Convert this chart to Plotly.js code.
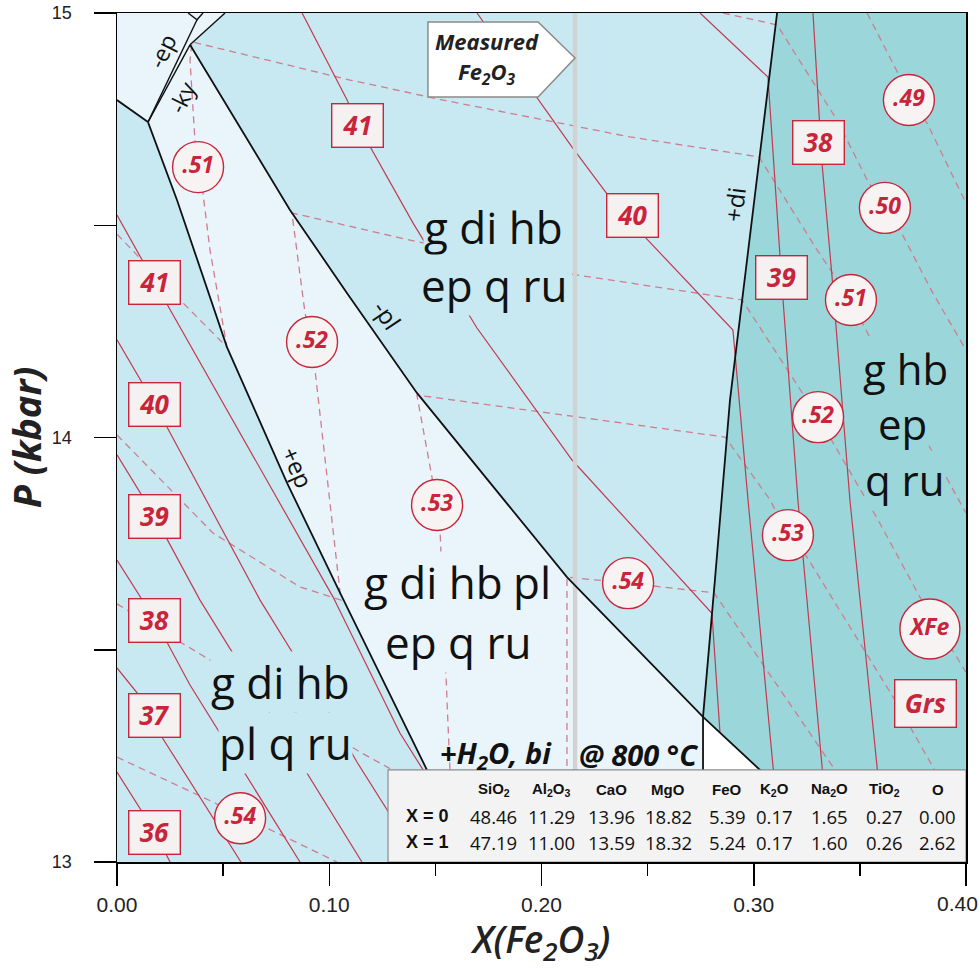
<!DOCTYPE html>
<html>
<head>
<meta charset="utf-8">
<script src="https://cdn.plot.ly/plotly-3.0.1.min.js"></script>
<style>
html,body{margin:0;padding:0;background:#fff;}
#chart{width:980px;height:969px;}
</style>
</head>
<body>
<div id="chart"></div>
<script>
// ---------- phase-field boundaries: X(Fe2O3) vs P (kbar) ----------
const bndCornerX = [0, 0.0146], bndCornerP = [14.795, 14.743];
const bndEpX = [0.0146, 0.0283, 0.0518, 0.0801, 0.1051, 0.1461, 0.1673];
const bndEpP = [14.743, 14.559, 14.213, 13.893, 13.634, 13.217, 13.0];
const bndPlX = [0.0344, 0.0815, 0.1084, 0.1413, 0.2120, 0.2761, 0.3029, 0.3496];
const bndPlP = [14.925, 14.536, 14.340, 14.105, 13.671, 13.342, 13.217, 13.0];
const bndDiX = [0.3110, 0.2888, 0.2817, 0.2761, 0.2761];
const bndDiP = [15.0, 14.088, 13.664, 13.342, 13.0];
const bndEpOutX = [0.0377, 0.0146], bndEpOutP = [14.984, 14.743];
const bndKyX = [0.0344, 0.0146], bndKyP = [14.925, 14.743];
const bndTopX = [0.0335, 0.0377, 0.0405], bndTopP = [15.0, 14.984, 15.0];
const bndTop2X = [0.0344, 0.0509], bndTop2P = [14.925, 15.0];

// ---------- grossular isopleths (solid) ----------
const grs41LeftX = [0, 0.0179, 0.1018, 0.1333, 0.1442], grs41LeftP = [14.524, 14.364, 13.624, 13.304, 13.217];
const grs40LeftX = [0, 0.0179, 0.0674, 0.0966, 0.1131, 0.1428], grs40LeftP = [14.230, 14.077, 13.617, 13.381, 13.235, 13.0];
const grs39LeftX = [0, 0.0179, 0.0391, 0.0683, 0.0909, 0.1154], grs39LeftP = [13.959, 13.813, 13.617, 13.381, 13.200, 13.0];
const grs38LeftX = [0, 0.0179, 0.0344, 0.0612, 0.0862], grs38LeftP = [13.711, 13.570, 13.417, 13.200, 13.0];
const grs37LeftX = [0, 0.0179, 0.0212, 0.0584], grs37LeftP = [13.457, 13.346, 13.294, 13.0];
const grs36LeftX = [0, 0.0179, 0.0250], grs36LeftP = [13.212, 13.070, 13.0];
const grs41X = [0.0872, 0.1084, 0.1135, 0.1395, 0.1696, 0.2144, 0.2803, 0.2841];
const grs41P = [15.0, 14.795, 14.736, 14.505, 14.258, 13.947, 13.586, 13.304];
const grs40X = [0.1696, 0.1979, 0.2144, 0.2313, 0.2488, 0.2902, 0.2973, 0.3091, 0.3157];
const grs40P = [15.0, 14.802, 14.684, 14.571, 14.472, 14.253, 13.853, 13.224, 13.0];
const grs39X = [0.2747, 0.3067, 0.3124, 0.3138, 0.3208, 0.3322, 0.3350];
const grs39P = [15.0, 14.849, 14.425, 14.324, 13.853, 13.224, 13.0];
const grs38X = [0.3279, 0.3322, 0.3369, 0.3453, 0.3581, 0.3618];
const grs38P = [15.0, 14.644, 14.378, 13.853, 13.224, 13.0];

// ---------- XFe isopleths (dashed) ----------
const xfe49X = [0.3534, 0.3689, 0.3731, 0.3816, 0.4000];
const xfe49P = [15.0, 14.849, 14.795, 14.741, 14.552];
const xfe50X = [0.2855, 0.3110, 0.3392, 0.3534, 0.3618, 0.3689, 0.3844, 0.4000];
const xfe50P = [15.0, 14.972, 14.748, 14.607, 14.541, 14.489, 14.340, 14.206];
const xfe51X = [0, 0.0297, 0.0518, 0.0438, 0.0405, 0.0382, 0.0367, 0.0344, 0.0353, 0.1098, 0.1536, 0.2144, 0.2417, 0.3025, 0.3298, 0.3458, 0.3548, 0.3948, 0.4000];
const xfe51P = [14.479, 14.324, 14.213, 14.442, 14.576, 14.637, 14.701, 14.889, 14.932, 14.842, 14.795, 14.736, 14.708, 14.661, 14.442, 14.324, 14.234, 13.869, 13.822];
const xfe52X = [0, 0.0452, 0.0862, 0.1055, 0.0933, 0.0919, 0.0886, 0.0824, 0.1380, 0.2073, 0.2945, 0.3303, 0.3581, 0.3783, 0.4000];
const xfe52P = [14.006, 13.775, 13.648, 13.617, 14.159, 14.225, 14.293, 14.529, 14.465, 14.390, 14.324, 14.048, 13.810, 13.624, 13.447];
const xfe53X = [0, 0.0297, 0.0438, 0.1145, 0.1272, 0.1560, 0.1569, 0.1560, 0.1522, 0.1508, 0.1484, 0.1413, 0.2865, 0.3077, 0.3161, 0.3251, 0.3656, 0.3844, 0.4000];
const xfe53P = [13.608, 13.518, 13.476, 13.259, 13.224, 13.139, 13.217, 13.318, 13.782, 13.841, 13.905, 14.100, 14.001, 13.853, 13.770, 13.718, 13.389, 13.224, 13.068];
const xfe54LeftX = [0, 0.0462, 0.0580, 0.0697, 0.1037], xfe54LeftP = [13.247, 13.139, 13.103, 13.082, 13.0];
const xfe54X = [0.2120, 0.2120, 0.2408, 0.2813, 0.3373, 0.3680], xfe54P = [13.0, 13.671, 13.657, 13.634, 13.224, 13.0];

// measured bulk Fe2O3
const measuredFe2O3 = 0.2158;

// ---------- isopleth labels ----------
const xfeLabels = ['.51', '.52', '.53', '.54', '.54', '.49', '.50', '.51', '.52', '.53'];
const xfeLabelX = [0.0382, 0.0919, 0.1508, 0.2408, 0.0580, 0.3731, 0.3618, 0.3458, 0.3303, 0.3161];
const xfeLabelP = [14.637, 14.225, 13.841, 13.657, 13.103, 14.795, 14.541, 14.324, 14.048, 13.770];
const grsLabels = ['41', '40', '39', '38', '37', '36', '41', '40', '39', '38'];
const grsLabelX = [0.0179, 0.0179, 0.0179, 0.0179, 0.0179, 0.0179, 0.1135, 0.2431, 0.3133, 0.3303];
const grsLabelP = [14.364, 14.077, 13.813, 13.570, 13.346, 13.070, 14.736, 14.522, 14.376, 14.696];

// ---------- axis ticks ----------
const xTickVals = [0, 0.1, 0.2, 0.3, 0.4];
const xTickText = ['0.00', '0.10', '0.20', '0.30', '0.40'];

// ---------- bulk composition (wt%) ----------
const oxides = ['SiO<sub>2</sub>', 'Al<sub>2</sub>O<sub>3</sub>', 'CaO', 'MgO', 'FeO', 'K<sub>2</sub>O', 'Na<sub>2</sub>O', 'TiO<sub>2</sub>', 'O'];
const bulkX0 = [48.46, 11.29, 13.96, 18.82, 5.39, 0.17, 1.65, 0.27, 0.00];
const bulkX1 = [47.19, 11.00, 13.59, 18.32, 5.24, 0.17, 1.60, 0.26, 2.62];

// ---------- styling ----------
const RED = '#c8243a';
const RED_LINE = '#c23a50';
const RED_DASH = '#cf7d8e';
const C_MID = '#c8e9f2', C_LIGHT = '#e9f5fb', C_TEAL = '#9bd7da';
const SANS = '"Open Sans", "Noto Sans", sans-serif';
const ARIAL = '"Liberation Sans", Arial, sans-serif';
const TICK_FONT_X = {family: ARIAL, size: 21, color: '#222'};

function curve(x, y, color, width, dash) {
  return {type: 'scatter', mode: 'lines', x: x, y: y,
    line: {color: color, width: width, dash: dash || 'solid', shape: 'linear'},
    hoverinfo: 'skip', showlegend: false};
}
function field(x, y, color) {
  return {type: 'scatter', mode: 'lines', x: x, y: y, fill: 'toself', fillcolor: color,
    line: {width: 0, color: color}, hoverinfo: 'skip', showlegend: false};
}

// field polygons assembled from the boundaries
const J = 5; // index where -pl meets +di
const lightX = [0, bndTop2X[1]].concat(bndPlX.slice(0, J + 1), [bndDiX[4]], bndEpX.slice().reverse(), [bndCornerX[0]]);
const lightP = [15, 15].concat(bndPlP.slice(0, J + 1), [13], bndEpP.slice().reverse(), [bndCornerP[0]]);
const tealX = bndDiX.concat([0.4, 0.4]);
const tealP = bndDiP.concat([13, 15]);
const whiteX = bndPlX.slice(J).concat([bndDiX[4]]);
const whiteP = bndPlP.slice(J).concat([13]);

const DASH = '7px,5px';
const traces = [
  field(lightX, lightP, C_LIGHT),
  field(tealX, tealP, C_TEAL),
  field(whiteX, whiteP, '#ffffff'),
  curve(xfe49X, xfe49P, RED_DASH, 1.3, DASH),
  curve(xfe50X, xfe50P, RED_DASH, 1.3, DASH),
  curve(xfe51X, xfe51P, RED_DASH, 1.3, DASH),
  curve(xfe52X, xfe52P, RED_DASH, 1.3, DASH),
  curve(xfe53X, xfe53P, RED_DASH, 1.3, DASH),
  curve(xfe54LeftX, xfe54LeftP, RED_DASH, 1.3, DASH),
  curve(xfe54X, xfe54P, RED_DASH, 1.3, DASH),
  curve(grs41LeftX, grs41LeftP, RED_LINE, 1.2),
  curve(grs40LeftX, grs40LeftP, RED_LINE, 1.2),
  curve(grs39LeftX, grs39LeftP, RED_LINE, 1.2),
  curve(grs38LeftX, grs38LeftP, RED_LINE, 1.2),
  curve(grs37LeftX, grs37LeftP, RED_LINE, 1.2),
  curve(grs36LeftX, grs36LeftP, RED_LINE, 1.2),
  curve(grs41X, grs41P, RED_LINE, 1.2),
  curve(grs40X, grs40P, RED_LINE, 1.2),
  curve(grs39X, grs39P, RED_LINE, 1.2),
  curve(grs38X, grs38P, RED_LINE, 1.2),
  curve([measuredFe2O3, measuredFe2O3], [13, 15], '#d2d2d2', 4.5),
  curve(bndCornerX, bndCornerP, '#111', 1.8),
  curve(bndEpX, bndEpP, '#111', 1.8),
  curve(bndPlX, bndPlP, '#111', 1.8),
  curve(bndDiX, bndDiP, '#111', 1.8),
  curve(bndEpOutX, bndEpOutP, '#111', 1.4),
  curve(bndKyX, bndKyP, '#111', 1.4),
  curve(bndTopX, bndTopP, '#111', 1.4),
  curve(bndTop2X, bndTop2P, '#111', 1.4),
  {type: 'scatter', mode: 'markers+text', x: xfeLabelX, y: xfeLabelP, text: xfeLabels,
    textposition: 'middle center',
    textfont: {family: SANS, size: 23, color: RED, weight: 700, style: 'italic'},
    marker: {symbol: 'circle', size: 51, color: '#f7f3f3', line: {color: RED, width: 1.4}},
    hoverinfo: 'skip', showlegend: false},
  {type: 'scatter', mode: 'markers+text', x: [0.3830], y: [13.549], text: ['XFe'],
    textposition: 'middle center',
    textfont: {family: SANS, size: 23, color: RED, weight: 700, style: 'italic'},
    marker: {symbol: 'circle', size: 60, color: '#f7f3f3', line: {color: RED, width: 1.4}},
    hoverinfo: 'skip', showlegend: false}
];

const ann = [];
// boxed grossular labels
grsLabels.forEach(function (t, i) {
  ann.push({x: grsLabelX[i], y: grsLabelP[i], xref: 'x', yref: 'y', text: t, showarrow: false,
    font: {family: SANS, size: 26, color: RED, weight: 700, style: 'italic'},
    bgcolor: '#f5f1f1', bordercolor: RED, borderwidth: 1.4, borderpad: 3, width: 44, height: 36});
});
ann.push({x: 0.3811, y: 13.374, xref: 'x', yref: 'y', text: 'Grs', showarrow: false,
  font: {family: SANS, size: 26, color: RED, weight: 700, style: 'italic'},
  bgcolor: '#f5f1f1', bordercolor: RED, borderwidth: 1.4, borderpad: 3, width: 54, height: 40});

// assemblage labels; the background knocks the isopleths out behind the words
function fieldText(t, x, y, bg, size, anchor) {
  ann.push({x: x, y: y, xref: 'x', yref: 'y', text: t, showarrow: false, xanchor: anchor || 'center',
    font: {family: SANS, size: size, color: '#111'}, bgcolor: bg, borderpad: 0});
}
fieldText('g di hb', 0.1776, 14.497, C_MID, 44);
fieldText('ep q ru', 0.1776, 14.360, C_MID, 44);
// "pl" sits against the -pl boundary, so only the first words get a knock-out
fieldText('g di hb', 0.1159, 13.660, C_LIGHT, 44, 'left');
fieldText('pl', 0.1860, 13.660, 'rgba(0,0,0,0)', 44, 'left');
fieldText('ep q ru', 0.1607, 13.518, C_LIGHT, 44);
fieldText('g di hb', 0.0768, 13.424, C_MID, 44);
fieldText('pl q ru', 0.0792, 13.280, C_MID, 44);
fieldText('g hb', 0.3713, 14.163, C_TEAL, 42);
fieldText('ep', 0.3699, 14.033, C_TEAL, 42);
fieldText('q ru', 0.3713, 13.902, C_TEAL, 42);

// reaction-line labels
function lineText(t, x, y, ang, size) {
  ann.push({x: x, y: y, xref: 'x', yref: 'y', text: t, showarrow: false, textangle: ang,
    font: {family: SANS, size: size, color: '#111'}});
}
lineText('-ep', 0.0212, 14.910, -64, 23);
lineText('-ky', 0.0306, 14.802, -64, 23);
lineText('-pl', 0.1272, 14.289, 56, 24);
lineText('+ep', 0.0853, 13.930, 66, 24);
lineText('+di', 0.2911, 14.548, -83, 24);

// conditions
ann.push({x: 0.1785, y: 13.254, xref: 'x', yref: 'y', text: '+H<sub>2</sub>O, bi', showarrow: false,
  font: {family: SANS, size: 29, color: '#111', weight: 700, style: 'italic'}});
ann.push({x: 0.2455, y: 13.254, xref: 'x', yref: 'y', text: '@ 800 °C', showarrow: false,
  font: {family: SANS, size: 29, color: '#111', weight: 700, style: 'italic'}});

// measured Fe2O3 callout
ann.push({x: 0.1743, y: 14.934, xref: 'x', yref: 'y', text: 'Measured', showarrow: false,
  font: {family: SANS, size: 22, color: '#222', weight: 700, style: 'italic'}});
ann.push({x: 0.1743, y: 14.858, xref: 'x', yref: 'y', text: 'Fe<sub>2</sub>O<sub>3</sub>', showarrow: false,
  font: {family: SANS, size: 22, color: '#222', weight: 700, style: 'italic'}});

// bulk composition table
const colX = [0.1776, 0.2045, 0.2332, 0.2596, 0.2874, 0.3100, 0.3359, 0.3614, 0.3868];
const rowP = [13.170, 13.108, 13.047];
oxides.forEach(function (o, i) {
  ann.push({x: colX[i], y: rowP[0], xref: 'x', yref: 'y', text: o, showarrow: false,
    font: {family: ARIAL, size: 15, color: '#111', weight: 700}});
  ann.push({x: colX[i], y: rowP[1], xref: 'x', yref: 'y', text: bulkX0[i].toFixed(2), showarrow: false,
    font: {family: SANS, size: 18.5, color: '#111'}});
  ann.push({x: colX[i], y: rowP[2], xref: 'x', yref: 'y', text: bulkX1[i].toFixed(2), showarrow: false,
    font: {family: SANS, size: 18.5, color: '#111'}});
});
ann.push({x: 0.1461, y: rowP[1], xref: 'x', yref: 'y', text: 'X = 0', showarrow: false,
  font: {family: ARIAL, size: 18, color: '#111', weight: 700}});
ann.push({x: 0.1461, y: rowP[2], xref: 'x', yref: 'y', text: 'X = 1', showarrow: false,
  font: {family: ARIAL, size: 18, color: '#111', weight: 700}});

// the last x tick label sits flush with the right edge of the figure
const lastTick = xTickVals.length - 1;
ann.push({x: xTickVals[lastTick], y: -0.0483, xref: 'x', yref: 'paper', xanchor: 'right', yanchor: 'middle',
  xshift: 13, text: xTickText[lastTick], showarrow: false, borderpad: 0, font: TICK_FONT_X});

const shapes = [
  {type: 'path', xref: 'x', yref: 'y', layer: 'above',
    path: 'M 0.1465,14.979 L 0.1984,14.979 L ' + measuredFe2O3 + ',14.894 L 0.1984,14.802 L 0.1465,14.802 Z',
    fillcolor: '#ffffff', line: {color: '#8a8a8a', width: 1.5}},
  {type: 'rect', xref: 'x', yref: 'y', layer: 'above', x0: 0.1277, x1: 0.4, y0: 13.0, y1: 13.217,
    fillcolor: '#f3f3f3', line: {color: '#8c8c8c', width: 1.2}}
];

const layout = {
  width: 980, height: 969,
  margin: {l: 117, r: 14, t: 13, b: 107, pad: 0},
  paper_bgcolor: '#ffffff', plot_bgcolor: C_MID,
  showlegend: false,
  xaxis: {range: [0, 0.4], tickmode: 'array', tickvals: xTickVals,
    ticktext: xTickText.map(function (t, i) { return i === lastTick ? '' : t; }),
    ticks: 'outside', ticklen: 22,
    tickwidth: 1.5, tickcolor: '#000', showline: true, linecolor: '#000', linewidth: 1.5, mirror: true,
    showgrid: false, zeroline: false, ticklabelstandoff: 1,
    tickfont: TICK_FONT_X,
    minor: {dtick: 0.05, tick0: 0, ticks: 'outside', ticklen: 12, tickwidth: 1.5, tickcolor: '#000', showgrid: false},
    title: {text: 'X(Fe<sub>2</sub>O<sub>3</sub>)', standoff: 9,
      font: {family: SANS, size: 37, color: '#222', style: 'italic', weight: 600}}},
  yaxis: {range: [13, 15], tick0: 13, dtick: 1, ticks: 'outside', ticklen: 22,
    tickwidth: 1.5, tickcolor: '#000', showline: true, linecolor: '#000', linewidth: 1.5, mirror: true,
    showgrid: false, zeroline: false, ticklabelstandoff: 18,
    tickfont: {family: ARIAL, size: 18, color: '#222'},
    minor: {dtick: 0.5, ticks: 'outside', ticklen: 22, tickwidth: 1.5, tickcolor: '#000', showgrid: false},
    title: {text: 'P (kbar)', standoff: 2,
      font: {family: SANS, size: 38, color: '#222', style: 'italic', weight: 700}}},
  annotations: ann,
  shapes: shapes
};

Plotly.newPlot('chart', traces, layout, {displayModeBar: false, staticPlot: true});
</script>
</body>
</html>
